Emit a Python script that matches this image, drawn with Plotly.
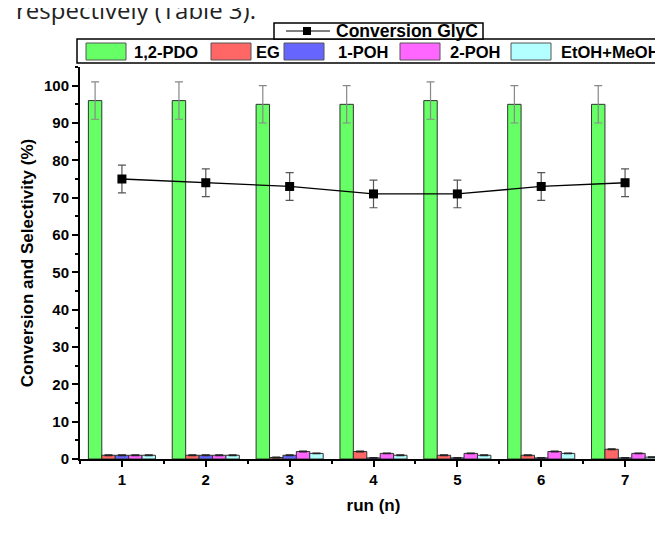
import plotly.graph_objects as go

# ---------------- data ----------------
runs = [1, 2, 3, 4, 5, 6, 7]
tick_labels = ["1", "2", "3", "4", "5", "6", "7"]

pdo = [96, 96, 95, 95, 96, 95, 95]
pdo_err = [5, 5, 5, 5, 5, 5, 5]
eg = [1.0, 1.0, 0.4, 2.0, 1.0, 1.0, 2.6]
poh1 = [1.0, 1.0, 1.0, 0.3, 0.3, 0.3, 0.3]
poh2 = [1.0, 1.0, 2.0, 1.5, 1.5, 2.0, 1.5]
etoh = [1.0, 1.0, 1.5, 1.0, 1.0, 1.5, 0.5]
small_err = [0.1, 0.1, 0.1, 0.1, 0.1, 0.1, 0.1]

conv = [75, 74, 73, 71, 71, 73, 74]
conv_err = [3.7, 3.7, 3.7, 3.7, 3.7, 3.7, 3.7]

bar_names = ["1,2-PDO", "EG", "1-POH", "2-POH", "EtOH+MeOH"]
bar_values = [pdo, eg, poh1, poh2, etoh]
bar_errors = [pdo_err, small_err, small_err, small_err, small_err]
bar_colors = ["#66FF66", "#FF6666", "#6666FF", "#FF66FF", "#B3FFFF"]
line_name = "Conversion GlyC"

# ---------------- layout constants ----------------
W, H = 663, 536
ML, MR, MT, MB = 72, 4, 59, 85
PW, PH = W - ML - MR, H - MT - MB

def px(x):
    return (x - ML) / PW

def py(y):
    return (H - MB - y) / PH

FONT = "Liberation Sans, Arial, sans-serif"
LEG_SIZE = 16.5

fig = go.Figure()

for name, vals, errs, col in zip(bar_names, bar_values, bar_errors, bar_colors):
    big = max(vals) > 50
    fig.add_trace(go.Bar(
        x=runs, y=vals, name=name,
        marker=dict(color=col, line=dict(color="#333333", width=1)),
        error_y=dict(type="data", array=errs, visible=True,
                     color="#888888" if big else "#222222",
                     thickness=1.2, width=4),
        showlegend=False,
    ))

fig.add_trace(go.Scatter(
    x=runs, y=conv, name=line_name, mode="lines+markers",
    line=dict(color="black", width=1.3),
    marker=dict(symbol="square", size=9, color="black"),
    error_y=dict(type="data", array=conv_err, visible=True,
                 color="#555555", thickness=1.2, width=4),
    showlegend=False,
))

shapes = []
annotations = []

# legend 2 (bars)
shapes.append(dict(type="rect", xref="paper", yref="paper",
                   x0=px(69), x1=px(662), y0=py(55), y1=py(31),
                   line=dict(color="black", width=1.5), fillcolor="white"))
sw_x = [78, 203, 276, 392, 503]
lab_x = [124, 246, 328, 440, 551]
for name, col, sx, lx in zip(bar_names, bar_colors, sw_x, lab_x):
    shapes.append(dict(type="rect", xref="paper", yref="paper",
                       x0=px(sx), x1=px(sx + 40), y0=py(52), y1=py(35),
                       line=dict(color="#555555", width=1), fillcolor=col))
    annotations.append(dict(xref="paper", yref="paper", x=px(lx), y=py(43.5),
                            xanchor="left", yanchor="middle", text=name, showarrow=False,
                            font=dict(family=FONT, size=LEG_SIZE, color="black", weight="bold")))

# legend 1 (line)
shapes.append(dict(type="rect", xref="paper", yref="paper",
                   x0=px(266), x1=px(475), y0=py(31), y1=py(15),
                   line=dict(color="black", width=1.5), fillcolor="white"))
shapes.append(dict(type="line", xref="paper", yref="paper",
                   x0=px(278), x1=px(322), y0=py(23), y1=py(23),
                   line=dict(color="black", width=1)))
shapes.append(dict(type="rect", xref="paper", yref="paper",
                   x0=px(295), x1=px(303), y0=py(27), y1=py(19),
                   line=dict(color="black", width=0), fillcolor="black"))
annotations.append(dict(xref="paper", yref="paper", x=px(326), y=py(23),
                        xanchor="left", yanchor="middle", text=line_name, showarrow=False,
                        font=dict(family=FONT, size=17.5, color="black", weight="bold")))

# clipped line of body text at the top of the page
annotations.append(dict(xref="paper", yref="paper", x=px(6), y=py(1.5),
                        xanchor="left", yanchor="middle", text="respectively (Table 3).",
                        showarrow=False,
                        font=dict(family="Open Sans, sans-serif", size=24, color="#222222")))

fig.update_layout(
    width=W, height=H,
    margin=dict(l=ML, r=MR, t=MT, b=MB),
    paper_bgcolor="white", plot_bgcolor="white",
    barmode="group", bargap=0.2, bargroupgap=0,
    showlegend=False,
    shapes=shapes, annotations=annotations,
    font=dict(family=FONT, color="black"),
)

fig.update_xaxes(
    range=[0.5, 7.5], tickvals=runs, ticktext=tick_labels,
    showline=True, linecolor="black", linewidth=2, mirror=False,
    ticks="outside", ticklen=6, tickwidth=1.5, tickcolor="black",
    minor=dict(dtick=0.5, tick0=0.5, ticks="outside", ticklen=3, tickwidth=1.5, tickcolor="black"),
    showgrid=False, zeroline=False,
    tickfont=dict(family=FONT, size=15, color="black", weight="bold"),
    title=dict(text="run (n)", font=dict(family=FONT, size=17, color="black", weight="bold"),
               standoff=12),
)
fig.update_yaxes(
    range=[0, 105], tick0=0, dtick=10,
    showline=True, linecolor="black", linewidth=2,
    ticks="outside", ticklen=6, tickwidth=1.5, tickcolor="black",
    minor=dict(dtick=5, ticks="outside", ticklen=3, tickwidth=1.5, tickcolor="black"),
    showgrid=False, zeroline=False,
    tickfont=dict(family=FONT, size=15, color="black", weight="bold"),
    title=dict(text="Conversion and Selectivity (%)",
               font=dict(family=FONT, size=17, color="black", weight="bold"), standoff=6),
)

fig.write_html("out.html")
